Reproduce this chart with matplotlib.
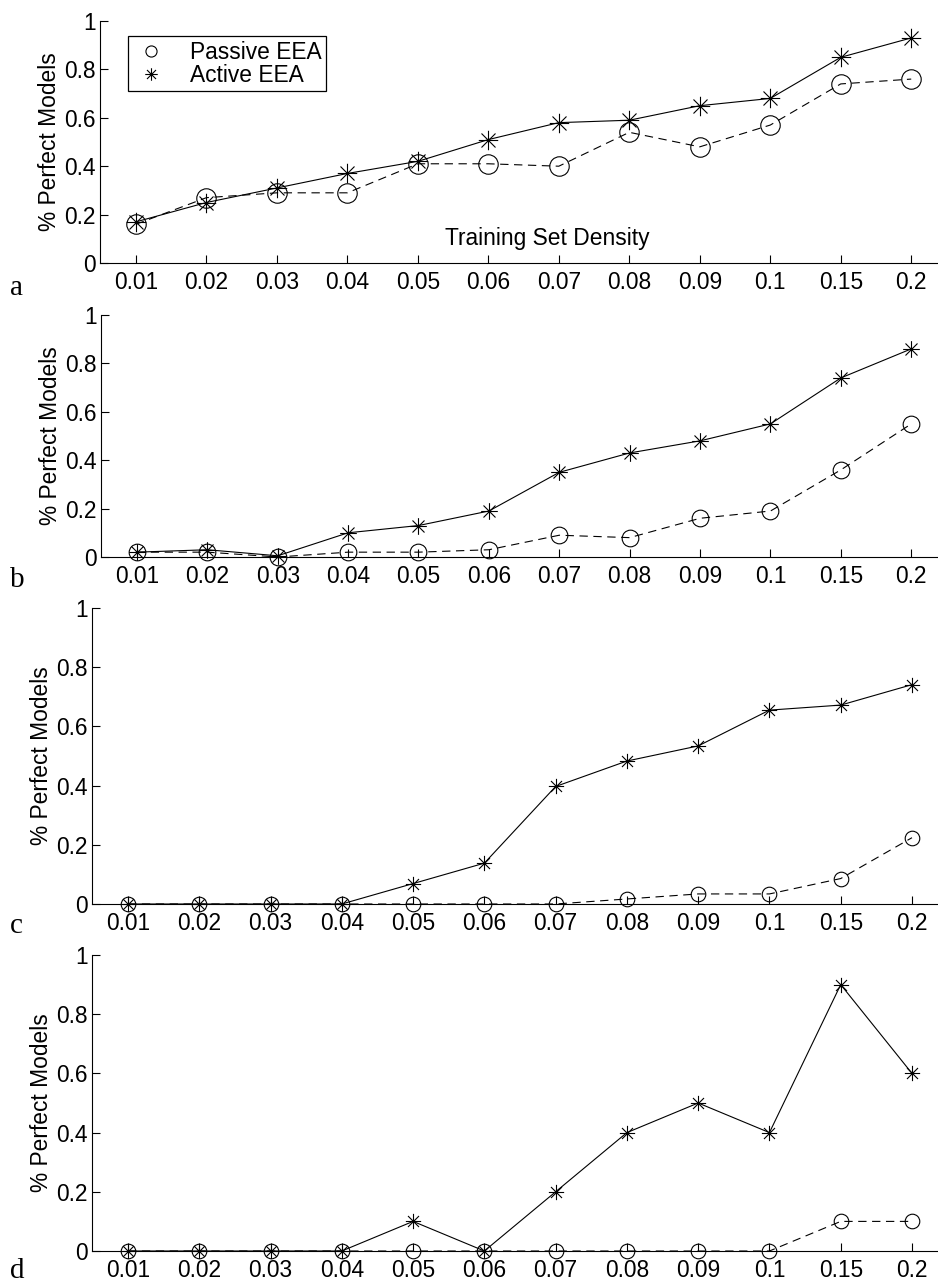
import numpy as np
import matplotlib
matplotlib.use("Agg")
import matplotlib.pyplot as plt
from matplotlib.path import Path
from matplotlib.lines import Line2D

plt.rcParams['font.family'] = ['Liberation Sans', 'DejaVu Sans']
plt.rcParams['lines.scale_dashes'] = False

# data
density = ['0.01', '0.02', '0.03', '0.04', '0.05', '0.06',
           '0.07', '0.08', '0.09', '0.1', '0.15', '0.2']

passive_a = [0.16, 0.27, 0.29, 0.29, 0.41, 0.41, 0.40, 0.54, 0.48, 0.57, 0.74, 0.76]
active_a = [0.17, 0.25, 0.31, 0.37, 0.42, 0.51, 0.58, 0.59, 0.65, 0.68, 0.85, 0.93]

passive_b = [0.02, 0.02, 0.0, 0.02, 0.02, 0.03, 0.09, 0.08, 0.16, 0.19, 0.36, 0.55]
active_b = [0.02, 0.03, 0.005, 0.10, 0.13, 0.19, 0.35, 0.43, 0.48, 0.55, 0.74, 0.86]

passive_c = [0, 0, 0, 0, 0, 0, 0, 0.017, 0.034, 0.034, 0.086, 0.224]
active_c = [0, 0, 0, 0, 0.069, 0.138, 0.397, 0.483, 0.534, 0.655, 0.672, 0.741]

passive_d = [0, 0, 0, 0, 0, 0, 0, 0, 0, 0, 0.1, 0.1]
active_d = [0, 0, 0, 0, 0.1, 0, 0.2, 0.4, 0.5, 0.4, 0.9, 0.6]

ytick_labels = ['0', '0.2', '0.4', '0.6', '0.8', '1']

# 8-armed asterisk like matlab '*'
d = 0.72
star = Path([(0, -1), (0, 1), (-1, 0), (1, 0), (-d, -d), (d, d), (-d, d), (d, -d)],
            [Path.MOVETO, Path.LINETO] * 4)

W, H = 938, 1284
fig = plt.figure(figsize=(W / 100, H / 100), dpi=100)

# panel boxes in pixels: left, top(y=1), bottom(y=0), xlim, marker sizes, label baseline
panels = [
    ('a', passive_a, active_a, 100, 21, 263, (0.49, 12.38), 14, 14, 295),
    ('b', passive_b, active_b, 101, 315, 557, (0.49, 12.38), 12, 12, 587),
    ('c', passive_c, active_c, 92, 608, 904, (0.495, 12.365), 10.5, 11, 933),
    ('d', passive_d, active_d, 92, 955, 1251, (0.495, 12.365), 10.5, 11, 1278),
]

x = np.arange(1, len(density) + 1)
fs = 16.4

for name, passive, active, left, top, bottom, xl, ms_c, ms_s, lab_y in panels:
    ax = fig.add_axes([left / W, 1 - bottom / H, (W - left) / W, (bottom - top) / H])
    ax.plot(x, passive, color='black', lw=0.8, linestyle=(0, (6, 4)),
            marker='o', ms=ms_c, mfc='none', mec='black', mew=0.8, clip_on=False)
    ax.plot(x, active, color='black', lw=0.8, linestyle='-',
            marker=star, ms=ms_s, mec='black', mew=0.8, clip_on=False)

    ax.set_xlim(*xl)
    ax.set_ylim(0, 1)
    ax.set_xticks(x)
    ax.set_xticklabels(density)
    ax.set_yticks(np.arange(0, 1.01, 0.2))
    ax.set_yticklabels(ytick_labels)
    ax.tick_params(direction='in', length=6, width=0.8, labelsize=fs, colors='black')
    ax.tick_params(axis='x', pad=6)
    ax.tick_params(axis='y', pad=3)
    ax.spines['top'].set_visible(False)
    ax.spines['right'].set_visible(False)
    ax.spines['left'].set_linewidth(0.8)
    ax.spines['bottom'].set_linewidth(0.8)
    ax.set_ylabel('% Perfect Models', fontsize=fs, labelpad=2)
    ax.patch.set_visible(False)

    fig.text(10 / W, 1 - lab_y / H, name, family=['Liberation Serif', 'DejaVu Serif'],
             fontsize=21, va='baseline', ha='left')

    if name == 'a':
        # matlab put the xlabel inside the first panel
        ax.text(6.83, 0.103, 'Training Set Density', fontsize=fs, ha='center', va='center')
        handles = [Line2D([], [], color='black', linestyle='none', marker='o', ms=8,
                          mfc='none', mew=0.8),
                   Line2D([], [], color='black', linestyle='none', marker=star, ms=9, mew=0.8)]
        leg = ax.legend(handles, ['Passive EEA', 'Active EEA'], fontsize=fs,
                        loc='upper left', bbox_to_anchor=(128 / W, 1 - 36 / H),
                        bbox_transform=fig.transFigure, fancybox=False, framealpha=1,
                        edgecolor='black', borderpad=0.2, handlelength=1.6,
                        handletextpad=0.9, labelspacing=0.0, borderaxespad=0)
        leg.get_frame().set_linewidth(0.9)
        leg._legend_box.sep = 0
        for t in leg.get_texts():
            t.set_x(0)

fig.savefig('out.png', dpi=100)
